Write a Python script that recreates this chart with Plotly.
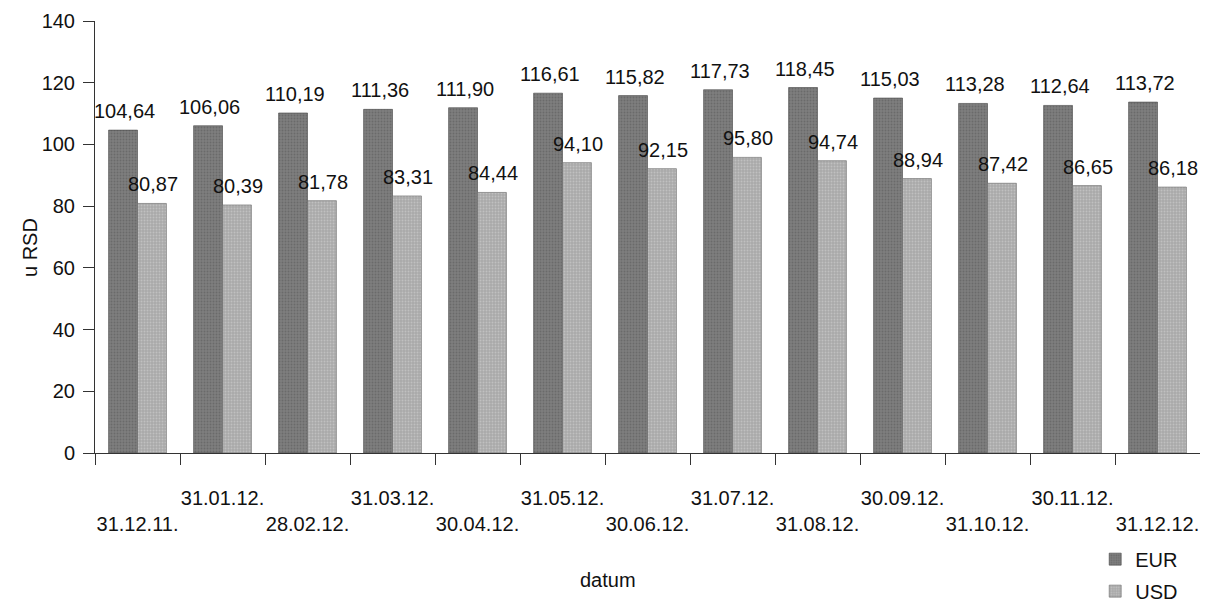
import plotly.graph_objects as go

categories = ["31.12.11.", "31.01.12.", "28.02.12.", "31.03.12.", "30.04.12.", "31.05.12.",
              "30.06.12.", "31.07.12.", "31.08.12.", "30.09.12.", "31.10.12.", "30.11.12.", "31.12.12."]
eur = [104.64, 106.06, 110.19, 111.36, 111.90, 116.61, 115.82, 117.73, 118.45, 115.03, 113.28, 112.64, 113.72]
usd = [80.87, 80.39, 81.78, 83.31, 84.44, 94.10, 92.15, 95.80, 94.74, 88.94, 87.42, 86.65, 86.18]
y_ticks = [0, 20, 40, 60, 80, 100, 120, 140]

FONT = "Liberation Sans, Arial, sans-serif"
FS = 20
EUR_COLOR = "#7e7e7e"
USD_COLOR = "#a9a9a9"

fig = go.Figure()
fig.add_trace(go.Bar(x=categories, y=eur, name="EUR", legendgroup="eur",
                     marker=dict(color=EUR_COLOR, line=dict(width=0.6, color="#444444"),
                                 pattern=dict(shape=".", fgcolor="#555555", size=3, solidity=0.3))))
fig.add_trace(go.Bar(x=categories, y=usd, name="USD", legendgroup="usd",
                     marker=dict(color=USD_COLOR, line=dict(width=0.6, color="#666666"),
                                 pattern=dict(shape=".", fgcolor="#d8d8d8", size=3, solidity=0.3))))

ticktext = [("<br>" + c) if i % 2 == 0 else c for i, c in enumerate(categories)]

annotations = []
for i, c in enumerate(categories):
    annotations.append(dict(x=c, y=eur[i], xref="x", yref="y", text=f"{eur[i]:.2f}".replace(".", ","),
                            showarrow=False, xshift=-13, yshift=19, font=dict(size=FS, color="#111111", family=FONT)))
    annotations.append(dict(x=c, y=usd[i], xref="x", yref="y", text=f"{usd[i]:.2f}".replace(".", ","),
                            showarrow=False, xshift=15, yshift=19, font=dict(size=FS, color="#111111", family=FONT)))

annotations.append(dict(x=0.464, y=-0.294, xref="paper", yref="paper", text="datum", showarrow=False,
                        font=dict(size=FS, color="#111111", family=FONT), yanchor="middle", xanchor="center"))
annotations.append(dict(x=-0.0588, y=0.4745, xref="paper", yref="paper", text="u RSD", showarrow=False, textangle=-90,
                        font=dict(size=FS, color="#111111", family=FONT), xanchor="center", yanchor="middle"))

fig.update_layout(
    width=1200, height=596,
    margin=dict(l=87, r=8, t=13, b=151, autoexpand=False),
    plot_bgcolor="white", paper_bgcolor="white",
    barmode="group", bargap=0.32, bargroupgap=0,
    font=dict(family=FONT, size=FS, color="#111111"),
    showlegend=True,
    legend=dict(xref="container", yref="container", x=0.906, xanchor="left", y=0.108, yanchor="top",
                bgcolor="rgba(0,0,0,0)", font=dict(size=FS), itemwidth=30, tracegroupgap=3,
                traceorder="grouped"),
    annotations=annotations,
)
fig.update_xaxes(type="category", tickmode="array", tickvals=categories, ticktext=ticktext, tickangle=0,
                 automargin=False,
                 showline=True, linecolor="#333333", linewidth=1, ticks="outside", tickson="boundaries",
                 ticklen=11, tickcolor="#333333", showgrid=False, range=[-0.5, 12.5],
                 ticklabelstandoff=27)
fig.update_yaxes(range=[0, 140], tickvals=y_ticks, showline=True, linecolor="#333333", linewidth=1,
                 automargin=False,
                 ticks="outside", ticklen=11, tickcolor="#333333", showgrid=False, zeroline=False,
                 ticklabelstandoff=4)

fig.write_html("out.html")
